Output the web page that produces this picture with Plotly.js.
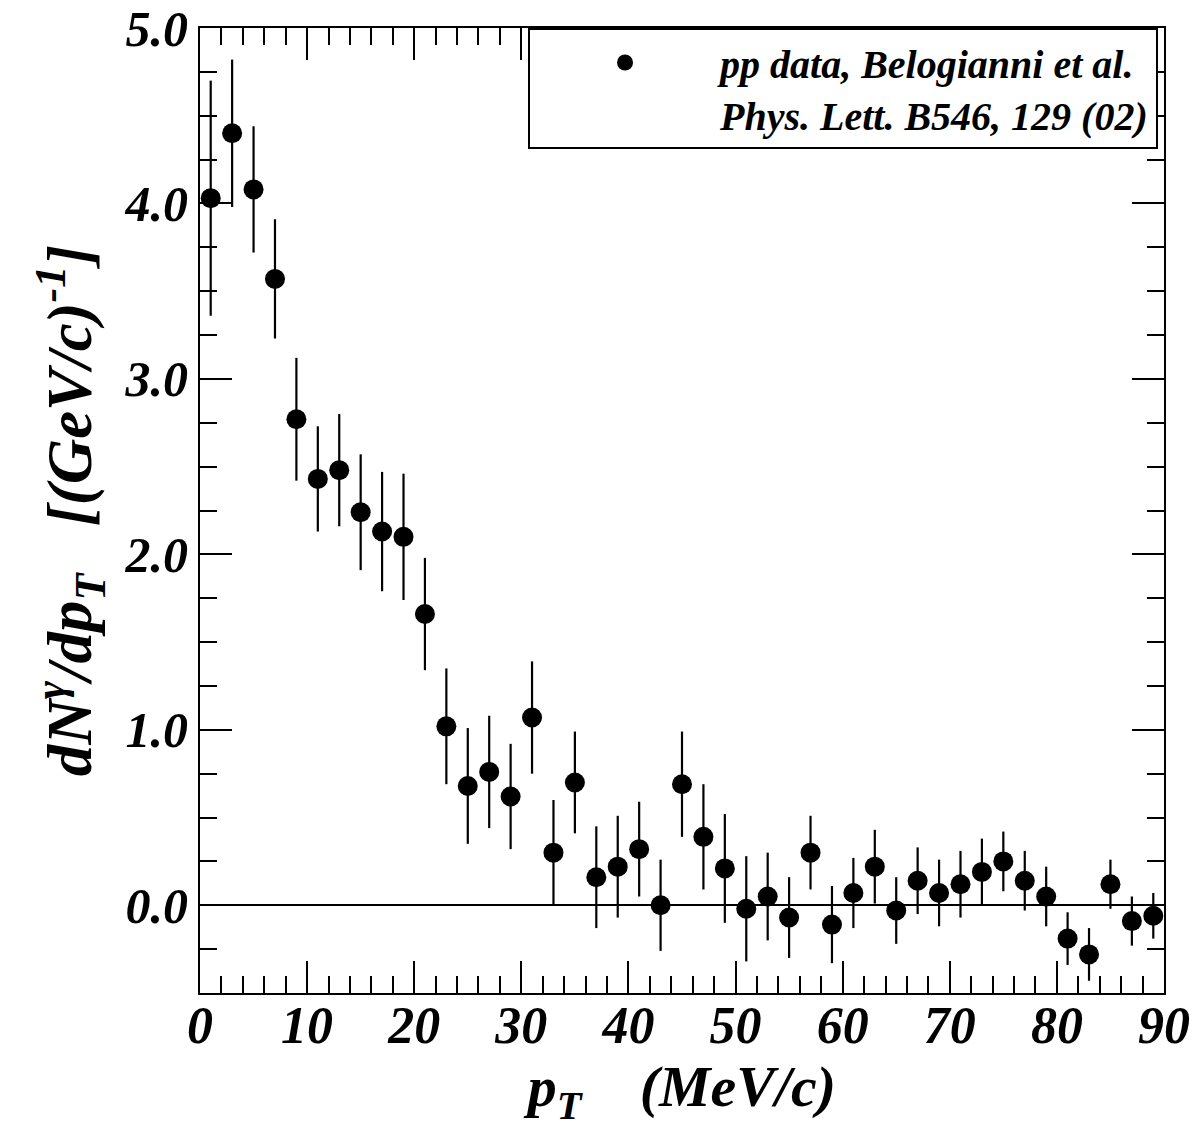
<!DOCTYPE html>
<html>
<head>
<meta charset="utf-8">
<script src="https://cdn.plot.ly/plotly-3.0.1.min.js"></script>
<style>
  html, body { margin: 0; padding: 0; background: #ffffff; }
  #chart { width: 1200px; height: 1132px; }
</style>
</head>
<body>
<div id="chart"></div>
<script>
// Direct-photon transverse momentum spectrum, pp collisions
const pT = [1, 3, 5, 7, 9, 11, 13, 15, 17, 19, 21, 23, 25, 27, 29, 31, 33, 35, 37, 39, 41, 43, 45,
            47, 49, 51, 53, 55, 57, 59, 61, 63, 65, 67, 69, 71, 73, 75, 77, 79, 81, 83, 85, 87, 89];
const dNdpT = [4.03, 4.40, 4.08, 3.57, 2.77, 2.43, 2.48, 2.24, 2.13, 2.10, 1.66, 1.02, 0.68, 0.76, 0.62,
               1.07, 0.30, 0.70, 0.16, 0.22, 0.32, 0.00, 0.69, 0.39, 0.21, -0.02, 0.05, -0.07, 0.30,
               -0.11, 0.07, 0.22, -0.03, 0.14, 0.07, 0.12, 0.19, 0.25, 0.14, 0.05, -0.19, -0.28, 0.12,
               -0.09, -0.06];
const dNdpTErr = [0.67, 0.42, 0.36, 0.34, 0.35, 0.30, 0.32, 0.33, 0.34, 0.36, 0.32, 0.33, 0.33, 0.32, 0.30,
                  0.32, 0.30, 0.29, 0.29, 0.29, 0.27, 0.26, 0.30, 0.30, 0.31, 0.30, 0.25, 0.23, 0.21,
                  0.22, 0.20, 0.21, 0.19, 0.19, 0.19, 0.19, 0.19, 0.17, 0.17, 0.17, 0.15, 0.15, 0.14,
                  0.14, 0.13];
const xTickVals = [0, 10, 20, 30, 40, 50, 60, 70, 80, 90];
const xTickText = ['0', '10', '20', '30', '40', '50', '60', '70', '80', '90'];
const yTickVals = [0, 1, 2, 3, 4, 5];
const yTickText = ['0.0', '1.0', '2.0', '3.0', '4.0', '5.0'];
const seriesName = 'pp data, Belogianni et al.<br>Phys. Lett. B546, 129 (02)';

const serif = 'Liberation Serif, Times New Roman, serif';

const trace = {
  type: 'scatter',
  mode: 'markers',
  x: pT,
  y: dNdpT,
  name: seriesName,
  marker: { symbol: 'circle', size: 20, color: '#000' },
  error_y: { type: 'data', array: dNdpTErr, visible: true, width: 0, thickness: 2.2, color: '#000' },
  showlegend: true
};

const axisCommon = {
  showline: true,
  linecolor: '#000',
  linewidth: 2,
  mirror: 'allticks',
  ticks: 'inside',
  tickcolor: '#000',
  tickwidth: 2,
  ticklen: 32,
  showgrid: false,
  tickmode: 'array',
  automargin: false
};

const layout = {
  width: 1200,
  height: 1132,
  paper_bgcolor: '#fff',
  plot_bgcolor: '#fff',
  margin: { l: 200, r: 36, t: 28, b: 139 },
  showlegend: true,
  legend: {
    x: 0.9938, xanchor: 'right',
    y: 1, yanchor: 'top',
    bgcolor: '#fff',
    bordercolor: '#000',
    borderwidth: 2,
    valign: 'top',
    itemwidth: 180,
    font: { family: serif, size: 40, weight: 'bold', style: 'italic', color: '#000' }
  },
  xaxis: Object.assign({}, axisCommon, {
    range: [0, 90],
    tickvals: xTickVals,
    ticktext: xTickText,
    tickfont: { family: serif, size: 52, weight: 'bold', style: 'italic', color: '#000' },
    ticklabelstandoff: -14,
    zeroline: false,
    minor: { dtick: 2, ticks: 'inside', ticklen: 17, tickwidth: 2, tickcolor: '#000', showgrid: false },
    title: {
      text: 'p<sub>T</sub>\u00a0\u00a0\u00a0\u00a0(MeV/c)',
      font: { family: serif, size: 58, weight: 'bold', style: 'italic', color: '#000' },
      standoff: 2
    }
  }),
  yaxis: Object.assign({}, axisCommon, {
    range: [-0.5, 5.0],
    tickvals: yTickVals,
    ticktext: yTickText,
    tickfont: { family: serif, size: 50, weight: 'bold', style: 'italic', color: '#000' },
    zeroline: true,
    zerolinecolor: '#000',
    zerolinewidth: 2,
    minor: { dtick: 0.25, ticks: 'inside', ticklen: 17, tickwidth: 2, tickcolor: '#000', showgrid: false },
    title: {
      text: 'dN<sup>γ</sup>/dp<sub>T</sub>\u00a0\u00a0\u00a0[(GeV/c)<sup>-1</sup>]',
      font: { family: serif, size: 63, weight: 'bold', style: 'italic', color: '#000' },
      standoff: 12
    }
  })
};

Plotly.newPlot('chart', [trace], layout, { displayModeBar: false, staticPlot: true });
</script>
</body>
</html>
